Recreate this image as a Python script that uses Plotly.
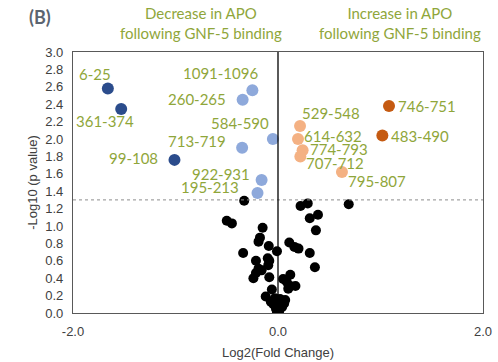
import plotly.graph_objects as go

# Peptides with significant decrease (strong / moderate)
dec_strong_labels = ["6-25", "361-374", "99-108"]
dec_strong_x = [-1.66, -1.53, -1.01]
dec_strong_y = [2.58, 2.345, 1.76]

dec_mod_labels = ["1091-1096", "260-265", "584-590", "713-719", "922-931", "195-213"]
dec_mod_x = [-0.25, -0.345, -0.05, -0.35, -0.16, -0.20]
dec_mod_y = [2.56, 2.45, 2.00, 1.90, 1.53, 1.38]

# Peptides with significant increase (strong / moderate)
inc_strong_labels = ["746-751", "483-490"]
inc_strong_x = [1.083, 1.018]
inc_strong_y = [2.38, 2.04]

inc_mod_labels = ["529-548", "614-632", "774-793", "707-712", "795-807"]
inc_mod_x = [0.215, 0.195, 0.24, 0.218, 0.624]
inc_mod_y = [2.15, 2.00, 1.87, 1.80, 1.62]

# Non-significant peptides
ns_x = [-0.33, -0.50, -0.45, -0.15, -0.176, -0.19, -0.09, -0.34, -0.01, -0.215,
        -0.10, -0.085, -0.095, -0.19, -0.16, -0.215, -0.24, -0.085, -0.06, -0.12,
        0.22, 0.29, 0.39, 0.31, 0.37, 0.11, 0.16, 0.20, 0.31, 0.36,
        0.12, 0.05, 0.085, 0.12, 0.17, 0.10, 0.69,
        -0.03, 0.02, 0.07, -0.045, 0.003, 0.04, -0.02, 0.013, -0.01, -0.07,
        0.0, 0.03, -0.005, 0.06, 0.01]
ns_y = [1.29, 1.06, 1.03, 0.98, 0.866, 0.82, 0.77, 0.69, 0.71, 0.60,
        0.63, 0.60, 0.55, 0.51, 0.49, 0.46, 0.40, 0.41, 0.27, 0.19,
        1.23, 1.26, 1.13, 1.09, 0.95, 0.81, 0.76, 0.74, 0.69, 0.525,
        0.44, 0.39, 0.36, 0.31, 0.31, 0.28, 1.25,
        0.17, 0.16, 0.15, 0.10, 0.10, 0.07, 0.05, 0.035, 0.015, 0.13,
        0.08, 0.12, 0.06, 0.11, 0.02]

threshold = 1.3

# Label placement: (xanchor, xshift px, yshift px)
label_pos = {
    "6-25": ("center", -13, 15), "361-374": ("center", -16, -12),
    "99-108": ("right", -15, 2), "1091-1096": ("center", -32, 17),
    "260-265": ("right", -16, 1), "584-590": ("center", -33, 16),
    "713-719": ("right", -15, 7), "922-931": ("right", -11, 6),
    "195-213": ("right", -18, 6), "746-751": ("left", 8, 0),
    "483-490": ("left", 8, 0), "529-548": ("left", 1, 13),
    "614-632": ("left", 5, 3), "774-793": ("left", 6, 1),
    "707-712": ("left", 5, -7), "795-807": ("left", 5, -9),
}

LABEL_COLOR = "#8FA63A"
LABEL_FONT = "Lato"
AXIS_FONT = dict(family="Liberation Sans", size=13, color="#404040")

fig = go.Figure()

fig.add_trace(go.Scatter(x=ns_x, y=ns_y, mode="markers",
                         marker=dict(color="black", size=10), showlegend=False))
groups = [
    (dec_strong_x, dec_strong_y, "#2B4C8C"),
    (dec_mod_x, dec_mod_y, "#8EA9DB"),
    (inc_strong_x, inc_strong_y, "#C55A11"),
    (inc_mod_x, inc_mod_y, "#F4B183"),
]
for gx, gy, col in groups:
    fig.add_trace(go.Scatter(x=gx, y=gy, mode="markers",
                             marker=dict(color=col, size=12), showlegend=False))

annotations = []
for labels, xs, ys in [(dec_strong_labels, dec_strong_x, dec_strong_y),
                       (dec_mod_labels, dec_mod_x, dec_mod_y),
                       (inc_strong_labels, inc_strong_x, inc_strong_y),
                       (inc_mod_labels, inc_mod_x, inc_mod_y)]:
    for lab, x, y in zip(labels, xs, ys):
        anchor, dx, dy = label_pos[lab]
        annotations.append(dict(x=x, y=y, xref="x", yref="y", text=lab,
                                showarrow=False, xanchor=anchor, yanchor="middle",
                                xshift=dx, yshift=dy, borderpad=0,
                                font=dict(family=LABEL_FONT, size=15, color=LABEL_COLOR)))

# Panel letter and side headers
annotations.append(dict(text="<b>(B)</b>", x=-0.08, y=1.134, xref="paper", yref="paper",
                        xanchor="center", yanchor="middle", showarrow=False,
                        font=dict(family="Lato", size=18, color="#5B6470")))
annotations.append(dict(text="Decrease in APO<br>following GNF-5 binding",
                        x=-0.75, xref="x", y=1, yref="paper", yshift=8,
                        yanchor="bottom", showarrow=False, align="center",
                        font=dict(family=LABEL_FONT, size=15, color=LABEL_COLOR)))
annotations.append(dict(text="Increase in APO<br>following GNF-5 binding",
                        x=1.19, xref="x", y=1, yref="paper", yshift=8,
                        yanchor="bottom", showarrow=False, align="center",
                        font=dict(family=LABEL_FONT, size=15, color=LABEL_COLOR)))

shapes = [
    dict(type="line", xref="x", yref="y", x0=-2, x1=2, y0=threshold, y1=threshold,
         line=dict(color="#8C8C8C", width=1, dash="dot")),
    dict(type="line", xref="x", yref="y", x0=0, x1=0, y0=0, y1=3,
         line=dict(color="black", width=1.3)),
]

fig.update_layout(
    width=498, height=362,
    margin=dict(l=73, r=15, t=52, b=49),
    plot_bgcolor="white", paper_bgcolor="white",
    annotations=annotations, shapes=shapes,
    xaxis=dict(range=[-2, 2], tickvals=[-2, 0, 2], ticktext=["-2.0", "0.0", "2.0"],
               showgrid=False, zeroline=False, showline=True, mirror=True,
               linecolor="#595959", linewidth=1.3, ticks="", ticklabelstandoff=6,
               tickfont=AXIS_FONT, automargin=False,
               title=dict(text="Log2(Fold Change)", standoff=10, font=AXIS_FONT)),
    yaxis=dict(range=[0, 3], tickvals=[i / 5 for i in range(16)], tickformat=".1f",
               showgrid=False, zeroline=False, showline=True, mirror=True,
               linecolor="#595959", linewidth=1.3, ticks="", ticklabelstandoff=6,
               tickfont=AXIS_FONT, automargin=False,
               title=dict(text="-Log10 (p value)", standoff=4, font=AXIS_FONT)),
)

fig.write_html("out.html")
